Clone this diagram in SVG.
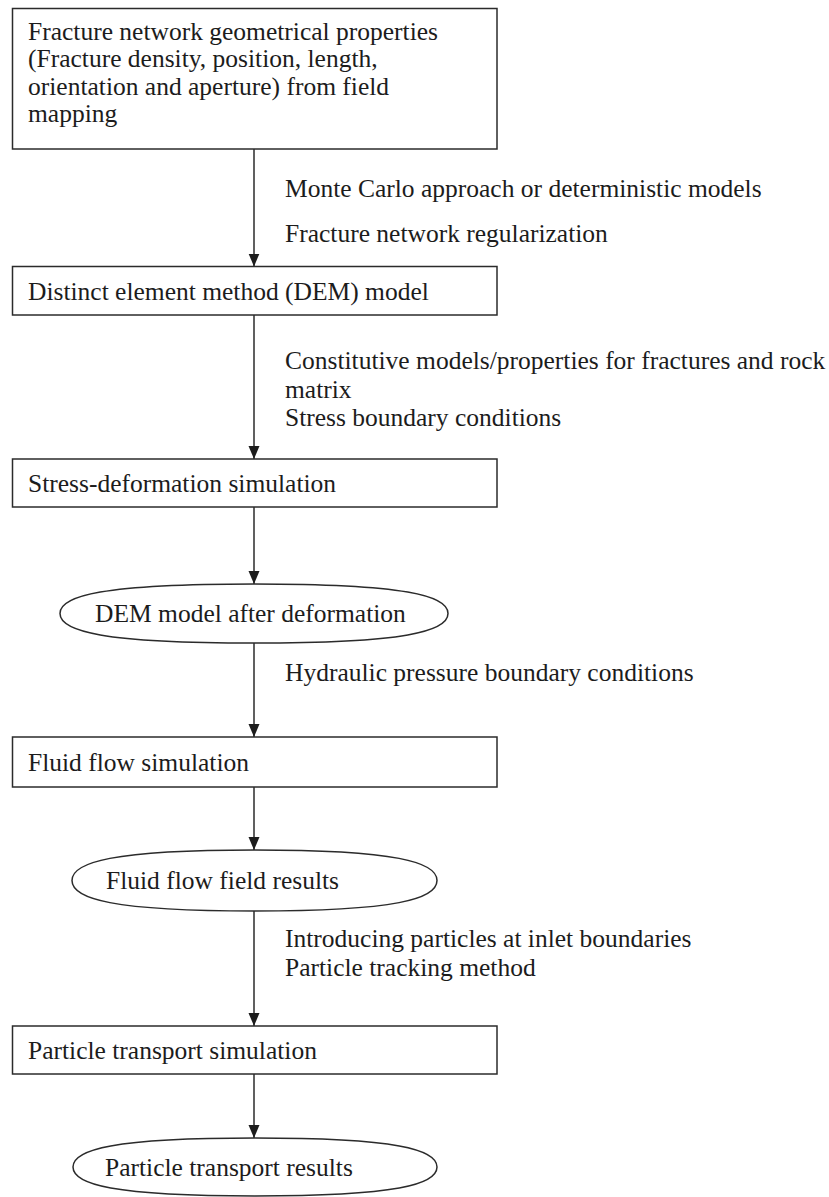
<svg xmlns="http://www.w3.org/2000/svg" width="829" height="1197" viewBox="0 0 829 1197">
<style>
  .box { fill: #ffffff; stroke: #2b2b2b; stroke-width: 1.5; }
  .t { font-family: "Liberation Serif", "Times New Roman", serif; font-size: 25.5px; fill: #1c1c1c; }
  .c { stroke: #2b2b2b; stroke-width: 1.5; fill: none; marker-end: url(#arr); }
</style>
<defs>
  <marker id="arr" markerWidth="14" markerHeight="12" refX="13" refY="6" orient="auto" markerUnits="userSpaceOnUse" viewBox="0 0 14 12">
    <path d="M0,0.5 L13,6 L0,11.5 Z" fill="#1c1c1c"/>
  </marker>
</defs>
<rect width="829" height="1197" fill="#ffffff"/>

<g id="connectors">
  <line class="c" x1="254" y1="149" x2="254" y2="266.5"/>
  <line class="c" x1="254" y1="315" x2="254" y2="459"/>
  <line class="c" x1="254" y1="507" x2="254" y2="584"/>
  <line class="c" x1="254" y1="643" x2="254" y2="737"/>
  <line class="c" x1="254" y1="787" x2="254" y2="850"/>
  <line class="c" x1="254" y1="911" x2="254" y2="1026"/>
  <line class="c" x1="254" y1="1074" x2="254" y2="1138"/>
  <text class="t" x="285" y="197">Monte Carlo approach or deterministic models</text>
  <text class="t" x="285" y="242">Fracture network regularization</text>
  <text class="t" x="285" y="369">Constitutive models/properties for fractures and rock</text>
  <text class="t" x="285" y="397.5">matrix</text>
  <text class="t" x="285" y="426">Stress boundary conditions</text>
  <text class="t" x="285" y="681">Hydraulic pressure boundary conditions</text>
  <text class="t" x="285" y="947">Introducing particles at inlet boundaries</text>
  <text class="t" x="285" y="976">Particle tracking method</text>
</g>

<g id="n1">
  <rect class="box" x="12.5" y="8.5" width="484.5" height="140.5"/>
  <text class="t" x="28" y="39.5">Fracture network geometrical properties</text>
  <text class="t" x="28" y="67">(Fracture density, position, length,</text>
  <text class="t" x="28" y="94.5">orientation and aperture) from field</text>
  <text class="t" x="28" y="122">mapping</text>
</g>
<g id="n2">
  <rect class="box" x="12.5" y="266.5" width="484.5" height="48.5"/>
  <text class="t" x="28" y="300">Distinct element method (DEM) model</text>
</g>
<g id="n3">
  <rect class="box" x="12.5" y="459" width="484.5" height="48"/>
  <text class="t" x="28" y="492">Stress-deformation simulation</text>
</g>
<g id="n4">
  <path class="box" d="M60,613.5 C60,595.8 102.7,584 254,584 C405.3,584 448,595.8 448,613.5 C448,631.2 405.3,643 254,643 C102.7,643 60,631.2 60,613.5Z"/>
  <text class="t" x="95" y="622">DEM model after deformation</text>
</g>
<g id="n5">
  <rect class="box" x="12.5" y="737" width="484.5" height="50"/>
  <text class="t" x="28" y="771">Fluid flow simulation</text>
</g>
<g id="n6">
  <path class="box" d="M72,880.5 C72,862.2 112.2,850 254.5,850 C396.8,850 437,862.2 437,880.5 C437,898.8 396.8,911 254.5,911 C112.2,911 72,898.8 72,880.5Z"/>
  <text class="t" x="106" y="889">Fluid flow field results</text>
</g>
<g id="n7">
  <rect class="box" x="12.5" y="1026" width="484.5" height="48"/>
  <text class="t" x="28" y="1059">Particle transport simulation</text>
</g>
<g id="n8">
  <path class="box" d="M73,1167 C73,1149.6 113,1138 255,1138 C397,1138 437,1149.6 437,1167 C437,1184.4 397,1196 255,1196 C113,1196 73,1184.4 73,1167Z"/>
  <text class="t" x="105" y="1176">Particle transport results</text>
</g>
</svg>
